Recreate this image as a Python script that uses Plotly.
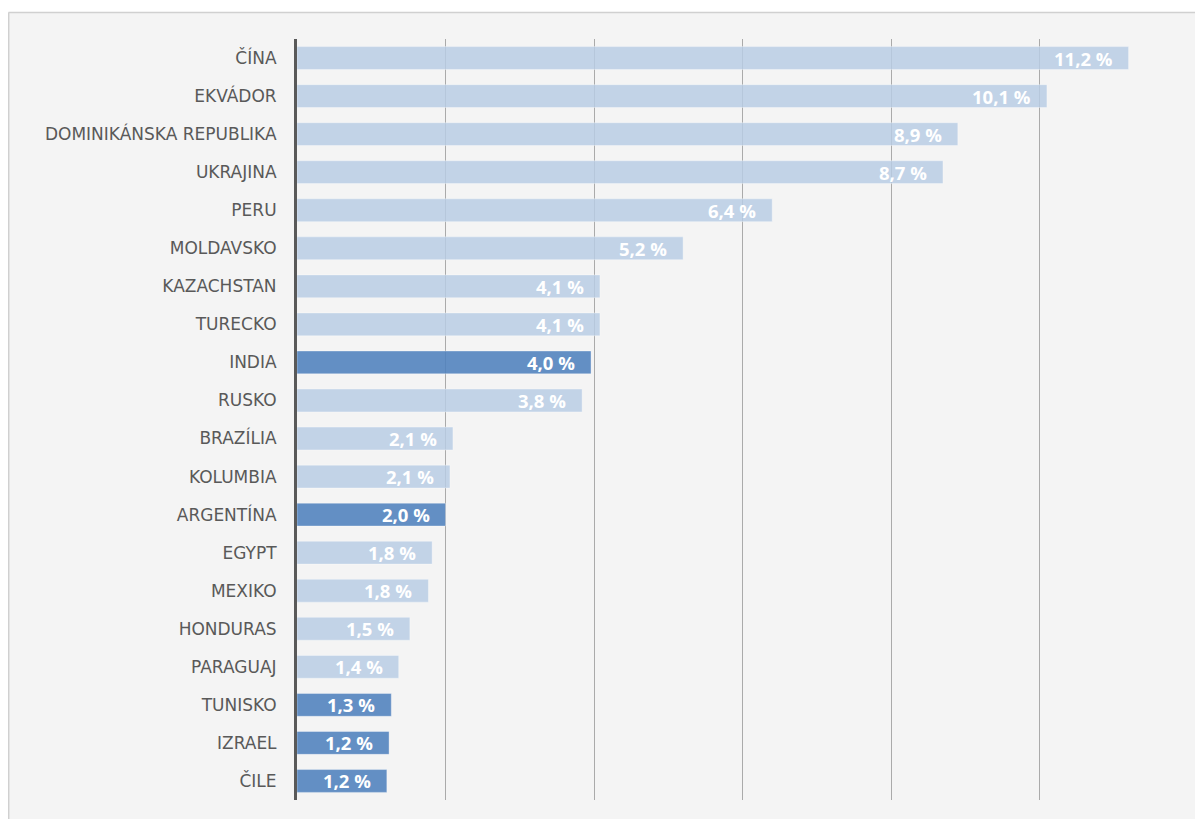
import plotly.graph_objects as go

countries = ["ČÍNA", "EKVÁDOR", "DOMINIKÁNSKA REPUBLIKA", "UKRAJINA", "PERU",
             "MOLDAVSKO", "KAZACHSTAN", "TURECKO", "INDIA", "RUSKO",
             "BRAZÍLIA", "KOLUMBIA", "ARGENTÍNA", "EGYPT", "MEXIKO",
             "HONDURAS", "PARAGUAJ", "TUNISKO", "IZRAEL", "ČILE"]
values = [11.2, 10.1, 8.9, 8.7, 6.4, 5.2, 4.08, 4.08, 3.96, 3.84,
          2.1, 2.06, 2.0, 1.82, 1.77, 1.52, 1.37, 1.27, 1.24, 1.21]
labels = ["11,2 %", "10,1 %", "8,9 %", "8,7 %", "6,4 %", "5,2 %", "4,1 %", "4,1 %",
          "4,0 %", "3,8 %", "2,1 %", "2,1 %", "2,0 %", "1,8 %", "1,8 %", "1,5 %",
          "1,4 %", "1,3 %", "1,2 %", "1,2 %"]
highlight = ["INDIA", "ARGENTÍNA", "TUNISKO", "IZRAEL", "ČILE"]

OFF = 8  # page body margin offset
W, H = 1203 - OFF, 819 - OFF
L, T = 297 - OFF, 39 - OFF
R, B = W - (1188 - OFF), H - (800 - OFF)
pw, ph = W - L - R, H - T - B

light = "rgba(184,204,228,0.85)"
dark = "rgba(79,129,189,0.88)"
colors = [dark if c in highlight else light for c in countries]

fig = go.Figure(go.Bar(
    x=values, y=countries, orientation="h",
    marker=dict(color=colors, line=dict(width=1, color="rgba(255,255,255,0.35)")),
    hoverinfo="skip",
))

for c, v, t in zip(countries, values, labels):
    fig.add_annotation(x=v, y=c, text=t, showarrow=False, xanchor="right",
                       xshift=-14, yshift=0,
                       font=dict(family="Open Sans", size=18.5, color="white", weight="bold"))

def px_x(p):
    return (p - OFF - L) / pw
def px_y(p):
    return 1 - (p - OFF - T) / ph

# white strip above the chart box and box border lines
fig.add_shape(type="rect", xref="paper", yref="paper",
              x0=px_x(0), x1=px_x(1203 + 20), y0=px_y(12), y1=px_y(0),
              fillcolor="white", line=dict(width=0), layer="below")
fig.add_shape(type="line", xref="paper", yref="paper",
              x0=px_x(8.5), x1=px_x(1203 + 20), y0=px_y(12.5), y1=px_y(12.5),
              line=dict(color="#d0d0d0", width=1.5), layer="below")
fig.add_shape(type="line", xref="paper", yref="paper",
              x0=px_x(8.7), x1=px_x(8.7), y0=px_y(12.5), y1=px_y(819 + 20),
              line=dict(color="#d0d0d0", width=1.5), layer="below")

fig.update_layout(
    width=W, height=H,
    margin=dict(l=L, r=R, t=T, b=B),
    paper_bgcolor="#f4f4f4", plot_bgcolor="rgba(0,0,0,0)",
    bargap=0.4, showlegend=False,
    xaxis=dict(range=[0, 12], dtick=2, showticklabels=False, showgrid=True,
               gridcolor="#aaaaaa", gridwidth=1.4, zeroline=False, fixedrange=True),
    yaxis=dict(categoryorder="array", categoryarray=countries[::-1],
               showline=True, linecolor="#595959", linewidth=3, ticks="",
               ticklabelstandoff=14,
               tickfont=dict(family="DejaVu Sans", size=17, color="#595959")),
)

fig.write_html("out.html")
